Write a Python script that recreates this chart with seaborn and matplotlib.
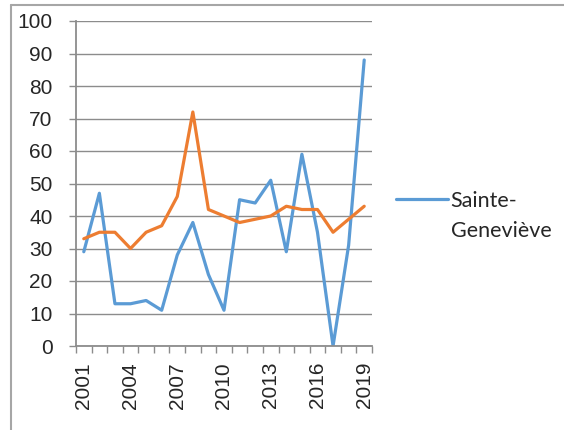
import pandas as pd
import numpy as np
import matplotlib
matplotlib.use("Agg")
import matplotlib.pyplot as plt
from matplotlib.lines import Line2D
import seaborn as sns

years = list(range(2001, 2020))
sainte_genevieve = [29, 47, 13, 13, 14, 11, 28, 38, 22, 11, 45, 44, 51, 29, 59, 35, 0, 31, 88]
orange_series = [33, 35, 35, 30, 35, 37, 46, 72, 42, 40, 38, 39, 40, 43, 42, 42, 35, 39, 43]
tick_years = [2001, 2004, 2007, 2010, 2013, 2016, 2019]

df = pd.DataFrame({
    'pos': np.arange(len(years)),
    'year': years,
    'blue': sainte_genevieve,
    'orange': orange_series,
})

sns.set_style("white")
plt.rcParams['font.family'] = ['Liberation Sans', 'DejaVu Sans']

fig = plt.figure(figsize=(5.64, 4.30), dpi=100)
ax = fig.add_axes([76 / 564, 1 - 346 / 430, (372 - 76) / 564, (346 - 21) / 430])

grid_c = '#8c8c8c'
sns.lineplot(data=df, x='pos', y='blue', ax=ax, color='#5B9BD5', lw=2.3,
             label='Sainte-')
sns.lineplot(data=df, x='pos', y='orange', ax=ax, color='#ED7D31', lw=2.3,
             label='_nolegend_')

ax.set_xlim(-0.5, len(years) - 0.5)
ax.set_ylim(0, 100)
ax.set_yticks(range(0, 101, 10))
ax.yaxis.grid(True, color=grid_c, lw=1)
ax.set_axisbelow(True)

# labels at category centres, tick marks at category boundaries
ax.set_xticks([years.index(y) for y in tick_years])
ax.set_xticklabels([str(y) for y in tick_years], rotation=90)
ax.set_xticks(np.arange(-0.5, len(years), 1), minor=True)
ax.tick_params(axis='x', which='major', length=0, pad=11.5, labelsize=15)
ax.tick_params(axis='x', which='minor', length=5, width=1, color=grid_c, bottom=True)
ax.tick_params(axis='y', length=5, width=1, color=grid_c, left=True, pad=12, labelsize=15)

for s in ['top', 'right']:
    ax.spines[s].set_visible(False)
for s in ['left', 'bottom']:
    ax.spines[s].set_color(grid_c)
    ax.spines[s].set_linewidth(1.3)

ax.set_xlabel('')
ax.set_ylabel('')

# legend: first line next to the handle, second line wrapped below it
leg_font = {'family': 'Lato', 'size': 15.5}
leg = ax.legend(loc='center left', bbox_to_anchor=(377 / 564, 1 - 201 / 430),
                bbox_transform=fig.transFigure, frameon=False, handlelength=2.4,
                handletextpad=0.12, prop=leg_font)
fig.canvas.draw()
bb = leg.get_texts()[0].get_window_extent()
fig.text(bb.x0 / 564, (bb.y0 - 30) / 430, 'Geneviève', ha='left', va='bottom',
         **leg_font)

# chart area border (partly cropped)
fig.add_artist(Line2D([11 / 564, 1], [1 - 4.5 / 430] * 2, transform=fig.transFigure,
                      color='#a6a6a6', lw=1.5))
fig.add_artist(Line2D([11 / 564] * 2, [0, 1 - 4.5 / 430], transform=fig.transFigure,
                      color='#a6a6a6', lw=1.5))

plt.savefig('out.png', dpi=100)
